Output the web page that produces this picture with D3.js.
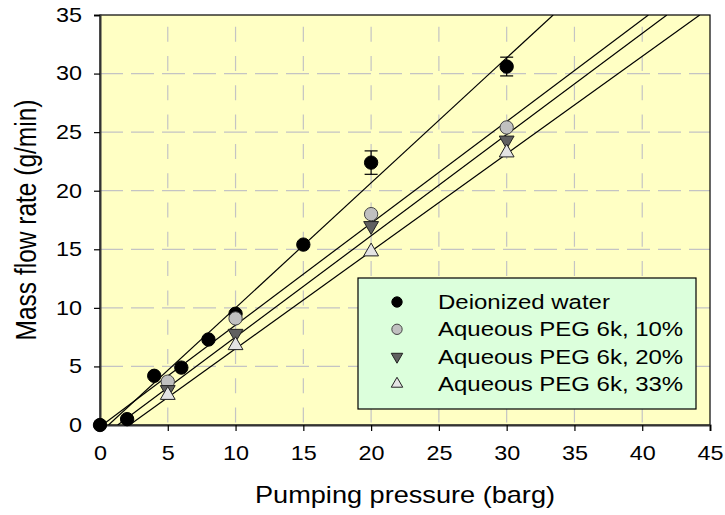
<!DOCTYPE html>
<html>
<head>
<meta charset="utf-8">
<script src="https://cdn.jsdelivr.net/npm/d3@7.9.0/dist/d3.min.js"></script>
<style>
  body { margin: 0; background: #fff; }
  text { font-family: "Liberation Sans", Arial, sans-serif; fill: #000; }
</style>
</head>
<body>
<svg id="chart"></svg>
<script>
// data
const waterPressure = [0, 2, 4, 6, 8, 10, 15, 20, 30];
const waterFlow = [0, 0.5, 4.2, 4.9, 7.3, 9.5, 15.4, 22.4, 30.6];
const waterError = [0, 0, 0, 0, 0, 0, 0, 1.0, 0.8];

const pegPressure = [5, 10, 20, 30];
const peg10Flow = [3.7, 9.1, 18.0, 25.4];
const peg20Flow = [3.0, 7.8, 17.0, 24.3];
const peg33Flow = [2.55, 6.8, 14.8, 23.25];

const seriesNames = ["Deionized water", "Aqueous PEG 6k, 10%", "Aqueous PEG 6k, 20%", "Aqueous PEG 6k, 33%"];
// fitted lines (slope, intercept) as drawn in the figure
const fitSlope = [1.067, 0.869, 0.864, 0.832];
const fitIntercept = [-0.67, -0.155, -1.13, -1.81];

const xTicks = [0, 5, 10, 15, 20, 25, 30, 35, 40, 45];
const yTicks = [0, 5, 10, 15, 20, 25, 30, 35];

const W = 725, H = 515;
const margin = { top: 15, right: 15, bottom: 90, left: 100 };
const width = W - margin.left - margin.right;   // 610
const height = H - margin.top - margin.bottom;  // 410
const stretch = 1.17; // the reference text is drawn a bit wide

const svg = d3.select("#chart").attr("width", W).attr("height", H);
const g = svg.append("g").attr("transform", `translate(${margin.left},${margin.top})`);

const x = d3.scaleLinear().domain([0, 45]).range([0, width]);
const y = d3.scaleLinear().domain([0, 35]).range([height, 0]);

// plot background
g.append("rect").attr("width", width).attr("height", height).attr("fill", "#ffffc4");

svg.append("defs").append("clipPath").attr("id", "plotClip")
    .append("rect").attr("width", width).attr("height", height);

// grid
g.selectAll(".hgrid").data(yTicks.slice(1, -1)).enter().append("line")
    .attr("x1", 0).attr("x2", width)
    .attr("y1", d => y(d)).attr("y2", d => y(d))
    .attr("stroke", "#c4c4c4").attr("stroke-width", 1.2)
    .attr("stroke-dasharray", "23,8");
g.selectAll(".vgrid").data(xTicks.slice(1, -1)).enter().append("line")
    .attr("x1", d => x(d)).attr("x2", d => x(d))
    .attr("y1", 0).attr("y2", height)
    .attr("stroke", "#c4c4c4").attr("stroke-width", 1.2)
    .attr("stroke-dasharray", "15,14.3")
    .attr("stroke-dashoffset", 17.6);

// frame
g.append("rect").attr("width", width).attr("height", height)
    .attr("fill", "none").attr("stroke", "#000").attr("stroke-width", 1.2);

// axes
const xAxis = g.append("g").attr("transform", `translate(0,${height})`)
    .call(d3.axisBottom(x).tickValues(xTicks).tickSize(6).tickPadding(15));
const yAxis = g.append("g")
    .call(d3.axisLeft(y).tickValues(yTicks).tickSize(6).tickPadding(12));
[xAxis, yAxis].forEach(a => {
  a.select(".domain").attr("stroke", "#333").attr("stroke-width", 2);
  a.selectAll(".tick line").attr("stroke", "#000").attr("stroke-width", 1.2);
  a.selectAll(".tick text").style("font-family", "'Liberation Sans', Arial, sans-serif")
      .style("font-size", "20px").attr("fill", "#000")
      .attr("x", function () { return (+d3.select(this).attr("x") || 0) / stretch; })
      .attr("transform", `scale(${stretch},1)`);
});

// regression lines
const lines = g.append("g").attr("clip-path", "url(#plotClip)");
fitSlope.forEach((m, i) => {
  const b = fitIntercept[i];
  const x0 = Math.max(0, -b / m);
  const x1 = Math.min(45, (35 - b) / m);
  lines.append("line")
      .attr("x1", x(x0)).attr("y1", y(m * x0 + b))
      .attr("x2", x(x1)).attr("y2", y(m * x1 + b))
      .attr("stroke", "#000").attr("stroke-width", 1.2);
});

// error bars (water)
const eb = g.append("g");
waterPressure.forEach((p, i) => {
  const e = waterError[i];
  if (!e) return;
  const cx = x(p);
  eb.append("line").attr("x1", cx).attr("x2", cx)
      .attr("y1", y(waterFlow[i] - e)).attr("y2", y(waterFlow[i] + e))
      .attr("stroke", "#000").attr("stroke-width", 1.2);
  [waterFlow[i] - e, waterFlow[i] + e].forEach(v => {
    eb.append("line").attr("x1", cx - 6.5).attr("x2", cx + 6.5)
        .attr("y1", y(v)).attr("y2", y(v))
        .attr("stroke", "#000").attr("stroke-width", 1.2);
  });
});

// markers
const styles = [
  { type: d3.symbolCircle, size: 140, fill: "#000", stroke: "#000" },
  { type: d3.symbolCircle, size: 140, fill: "#c0c0c0", stroke: "#444" },
  { type: d3.symbolTriangle, size: 95, fill: "#606060", stroke: "#222", rot: 180 },
  { type: d3.symbolTriangle, size: 95, fill: "#e4e4e4", stroke: "#222", rot: 0 }
];
const seriesData = [
  waterPressure.map((p, i) => [p, waterFlow[i]]),
  pegPressure.map((p, i) => [p, peg10Flow[i]]),
  pegPressure.map((p, i) => [p, peg20Flow[i]]),
  pegPressure.map((p, i) => [p, peg33Flow[i]])
];
seriesData.forEach((pts, i) => {
  const s = styles[i];
  const sym = d3.symbol().type(s.type).size(s.size);
  g.append("g").selectAll("path").data(pts).enter().append("path")
      .attr("d", sym)
      .attr("transform", d => `translate(${x(d[0])},${y(d[1])}) rotate(${s.rot || 0})`)
      .attr("fill", s.fill).attr("stroke", s.stroke).attr("stroke-width", 1);
});

// legend
const legend = svg.append("g").attr("transform", "translate(358,278)");
legend.append("rect").attr("width", 338).attr("height", 131)
    .attr("fill", "#dcffdc").attr("stroke", "#000").attr("stroke-width", 1.2);
seriesNames.forEach((name, i) => {
  const s = styles[i];
  const ry = 24 + i * 27.3;
  legend.append("path")
      .attr("d", d3.symbol().type(s.type).size(s.size * 0.6))
      .attr("transform", `translate(39,${ry}) rotate(${s.rot || 0})`)
      .attr("fill", s.fill).attr("stroke", s.stroke).attr("stroke-width", 1);
  legend.append("text")
      .attr("transform", `translate(80,${ry}) scale(${stretch},1)`)
      .attr("dy", "0.35em")
      .style("font-size", "20.5px").text(name);
});

// axis titles
svg.append("text")
    .attr("transform", `translate(${margin.left + width / 2},495) scale(1.18,1)`)
    .attr("dy", "0.35em")
    .attr("text-anchor", "middle").style("font-size", "23px")
    .text("Pumping pressure (barg)");
svg.append("text")
    .attr("transform", `translate(26,${margin.top + height / 2}) rotate(-90) scale(1,1.18)`)
    .attr("dy", "0.35em")
    .attr("text-anchor", "middle").style("font-size", "24.5px")
    .text("Mass flow rate (g/min)");
</script>
</body>
</html>
